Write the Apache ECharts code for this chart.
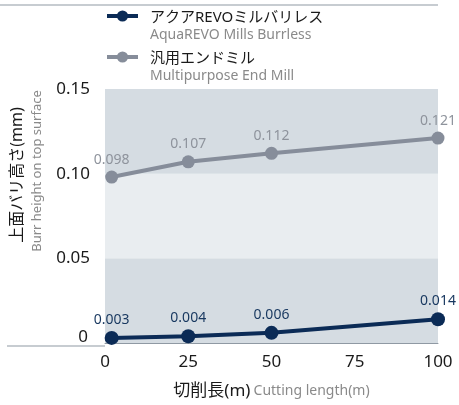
<!DOCTYPE html>
<html>
<head>
<meta charset="utf-8">
<script src="https://cdn.jsdelivr.net/npm/echarts@6/dist/echarts.min.js"></script>
<style>html,body{margin:0;padding:0;background:#fff;}#c{width:459px;height:405px;}</style>
</head>
<body>
<div id="c"></div>
<script>
const cuttingLength = [2, 25, 50, 100];
const burrlessValues = [0.003, 0.004, 0.006, 0.014];
const multipurposeValues = [0.098, 0.107, 0.112, 0.121];
const xTicks = [0, 25, 50, 75, 100];
const yTicks = [0, 0.05, 0.10, 0.15];
const seriesNamesJa = ['アクアREVOミルバリレス', '汎用エンドミル'];
const seriesNamesEn = ['AquaREVO Mills Burrless', 'Multipurpose End Mill'];

const FONT = '"Noto Sans", "Noto Sans CJK JP", sans-serif';
const NAVY = '#0b2b56';
const GRAY = '#868d9a';

const chart = echarts.init(document.getElementById('c'));

function legendFor(i, top) {
  return {
    data: [seriesNamesJa[i]],
    orient: 'vertical',
    left: 105,
    top: top,
    padding: 0,
    itemWidth: 31,
    itemHeight: 14,
    lineStyle: { width: 4 },
    formatter: function (name) {
      return '{a|' + name + '}\n{b|' + seriesNamesEn[i] + '}';
    },
    textStyle: {
      padding: [20, 0, 0, 7],
      fontFamily: FONT,
      rich: {
        a: { fontSize: 15, lineHeight: 18, color: '#1a1a1a', fontFamily: FONT },
        b: { fontSize: 14, lineHeight: 17, color: '#8a8a8a', fontFamily: FONT }
      }
    }
  };
}

function makeSeries(i, values, color, labelColor, symSize) {
  return {
    name: seriesNamesJa[i],
    type: 'line',
    data: cuttingLength.map((x, k) => [x, values[k]]),
    symbol: 'circle',
    symbolSize: symSize,
    clip: false,
    lineStyle: { color: color, width: 4 },
    itemStyle: { color: color },
    label: {
      show: true,
      position: 'top',
      distance: 4,
      fontSize: 14,
      fontFamily: FONT,
      color: labelColor,
      formatter: p => p.value[1].toFixed(3)
    },
    z: i === 0 ? 4 : 3
  };
}

chart.setOption({
  animation: false,
  textStyle: { fontFamily: FONT },
  grid: { left: 105, right: 21, top: 89, bottom: 59 },
  legend: [legendFor(0, 10), legendFor(1, 51)],
  xAxis: {
    type: 'value',
    min: 0, max: 100, interval: 25,
    axisLine: { show: true, lineStyle: { color: '#8f99a3', width: 1 } },
    axisTick: { show: false },
    splitLine: { show: false },
    axisLabel: {
      fontSize: 17, color: '#1a1a1a', margin: 11, fontFamily: FONT,
      formatter: v => xTicks.includes(v) ? String(v) : ''
    },
    name: '{a|切削長(m)} {b|Cutting length(m)}',
    nameLocation: 'middle',
    nameGap: 40,
    nameTextStyle: {
      rich: {
        a: { fontSize: 17, color: '#1a1a1a', fontFamily: FONT },
        b: { fontSize: 14, color: '#8a8a8a', fontFamily: FONT }
      }
    }
  },
  yAxis: {
    type: 'value',
    min: 0, max: 0.15, interval: 0.05,
    axisLine: { show: false },
    axisTick: { show: false },
    splitLine: { show: false },
    splitArea: { show: true, areaStyle: { color: ['#d5dce2', '#e9edf0'] } },
    axisLabel: {
      fontSize: 17, color: '#1a1a1a', margin: 15, fontFamily: FONT,
      formatter: function (v) {
        const t = yTicks.find(y => Math.abs(y - v) < 1e-9);
        if (t === undefined) return '';
        return t === 0 ? '{z|0}' : t.toFixed(2);
      },
      rich: { z: { fontSize: 17, color: '#1a1a1a', padding: [0, 2, 12, 0], fontFamily: FONT } }
    }
  },
  graphic: [
    { type: 'line', shape: { x1: 0, y1: 5, x2: 438, y2: 5 }, style: { stroke: '#8f99a3', lineWidth: 1 } },
    { type: 'line', shape: { x1: 7, y1: 346, x2: 105, y2: 346 }, style: { stroke: '#8f99a3', lineWidth: 1 } },
    { type: 'text', x: 17, y: 175, rotation: Math.PI / 2,
      style: { text: '上面バリ高さ(mm)', fontSize: 16, fill: '#1a1a1a', fontFamily: FONT, align: 'center', verticalAlign: 'middle' } },
    { type: 'text', x: 37, y: 171, rotation: Math.PI / 2,
      style: { text: 'Burr height on top surface', fontSize: 13, fill: '#8a8a8a', fontFamily: FONT, align: 'center', verticalAlign: 'middle' } }
  ],
  series: [
    makeSeries(0, burrlessValues, NAVY, '#17375f', 14),
    makeSeries(1, multipurposeValues, GRAY, '#8e939c', 13)
  ]
});
</script>
</body>
</html>
